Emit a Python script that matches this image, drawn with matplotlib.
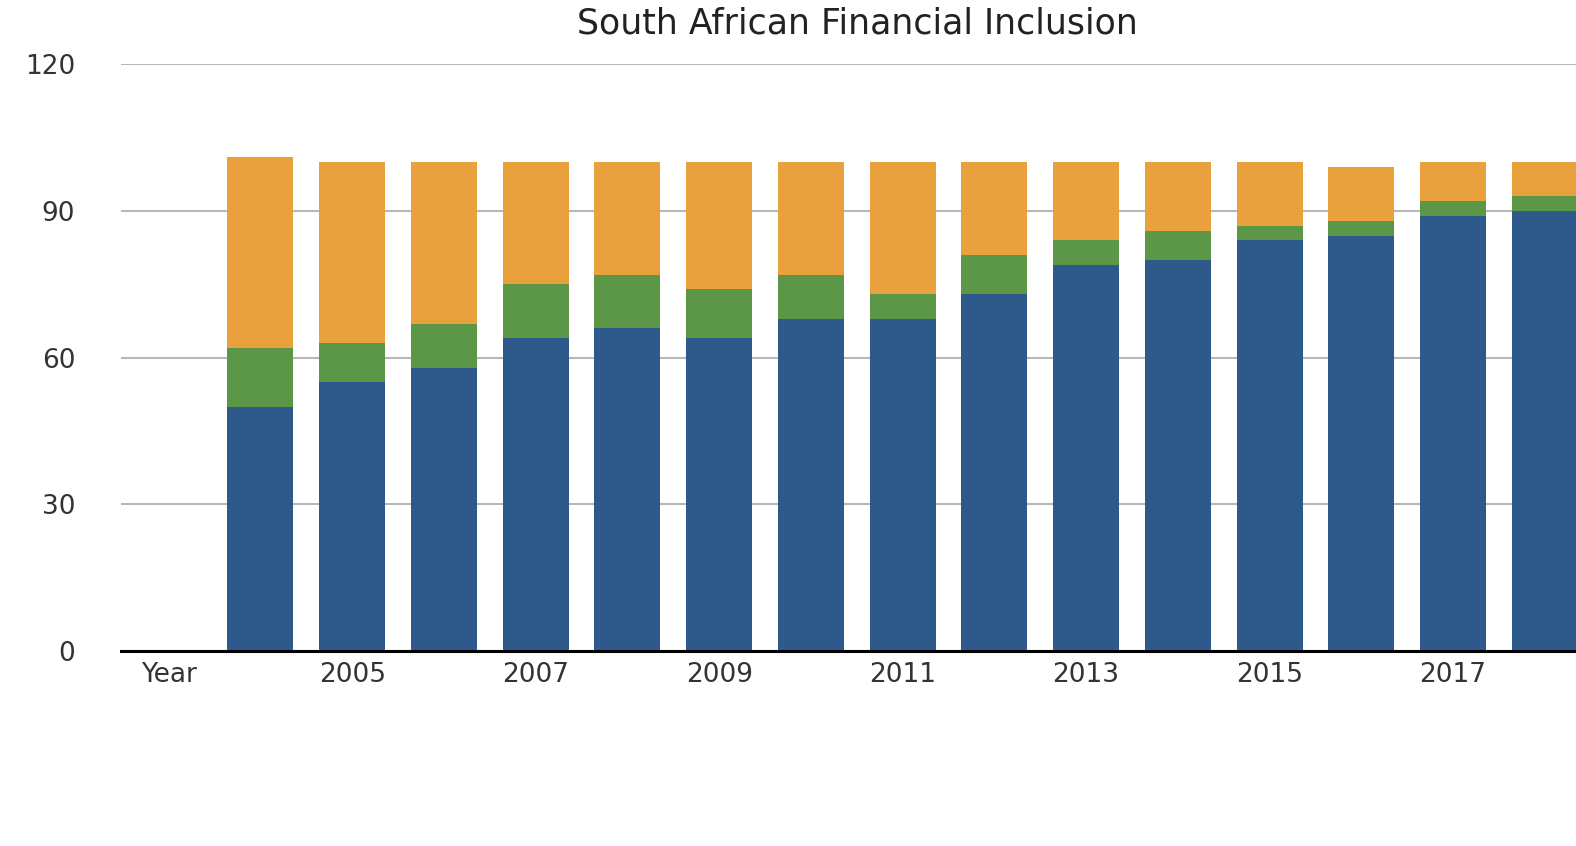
import matplotlib
matplotlib.use("Agg")
import matplotlib.pyplot as plt
import numpy as np

categories = ["Year", "2004", "2005", "2006", "2007", "2008", "2009", "2010",
              "2011", "2012", "2013", "2014", "2015", "2016", "2017", "2018"]
# cumulative tops (0 for the empty "Year" slot)
blue_top   = [0, 50, 55, 58, 64, 66, 64, 68, 68, 73, 79, 80, 84, 85, 89, 90]
green_top  = [0, 62, 63, 67, 75, 77, 74, 77, 73, 81, 84, 86, 87, 88, 92, 93]
orange_top = [0, 101, 100, 100, 100, 100, 100, 100, 100, 100, 100, 100, 100, 99, 100, 100]
tick_labels = ["Year", "", "2005", "", "2007", "", "2009", "", "2011", "",
               "2013", "", "2015", "", "2017", ""]
yticks = [0, 30, 60, 90, 120]

blue = np.array(blue_top)
green = np.array(green_top) - blue
orange = np.array(orange_top) - np.array(green_top)

C_BLUE = "#2e5a8b"
C_GREEN = "#5c9747"
C_ORANGE = "#e9a13d"

fig = plt.figure(figsize=(15.76, 8.46), dpi=100)
ax = fig.add_axes([121/1576, 1 - 651/846, 1 - 121/1576, (651 - 64.5)/846])

x = np.arange(len(categories))
w = 0.72
ax.bar(x, blue, width=w, color=C_BLUE, zorder=3)
ax.bar(x, green, width=w, bottom=blue, color=C_GREEN, zorder=3)
ax.bar(x, orange, width=w, bottom=np.array(green_top), color=C_ORANGE, zorder=3)

ax.set_xlim(-0.52, 15.34)
ax.set_ylim(0, 120)
ax.set_yticks(yticks)
ax.set_yticklabels([str(v) for v in yticks])
ax.set_xticks(x)
ax.set_xticklabels(tick_labels)

for s in ["top", "right", "left"]:
    ax.spines[s].set_visible(False)
ax.spines["bottom"].set_color("black")
ax.spines["bottom"].set_linewidth(2.2)
ax.spines["bottom"].set_zorder(4)

ax.yaxis.grid(True, color="#b7b7b7", linewidth=1.5, zorder=0)
ax.set_axisbelow(True)
ax.tick_params(axis="both", length=0)
ax.tick_params(axis="y", pad=33, labelsize=19, labelcolor="#333333")
ax.tick_params(axis="x", pad=8, labelsize=19, labelcolor="#333333")
for lab in ax.get_xticklabels() + ax.get_yticklabels():
    lab.set_family("DejaVu Sans")

fig.text(857/1576, 1 - 23/846, "South African Financial Inclusion",
         ha="center", va="center", fontsize=25, color="#222222",
         family="DejaVu Sans")

fig.savefig("out.png", dpi=100)
